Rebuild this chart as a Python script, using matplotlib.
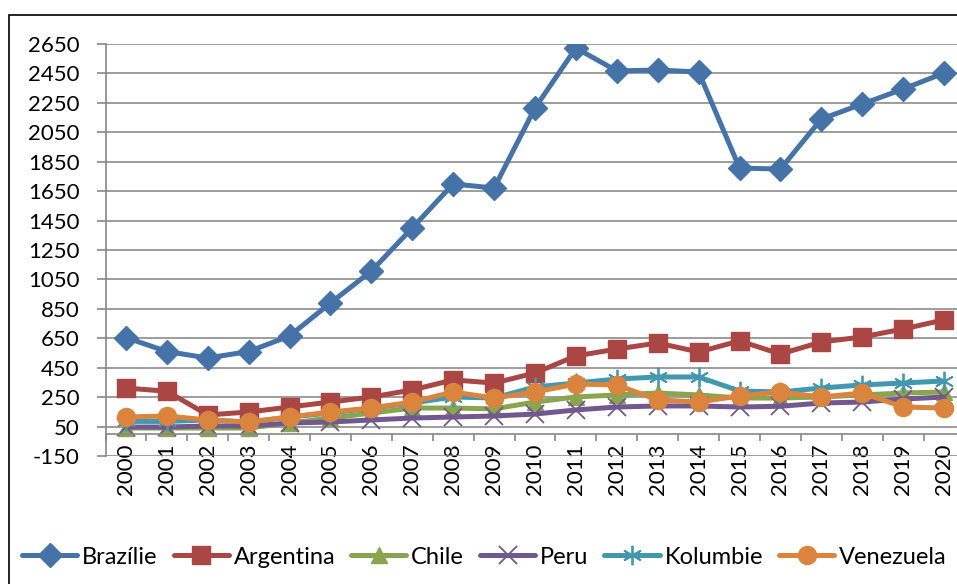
import matplotlib.pyplot as plt
from matplotlib.patches import Rectangle

plt.rcParams['font.family'] = ['Lato', 'DejaVu Sans']
plt.rcParams['axes.unicode_minus'] = False

# ---- data ----
years = [str(y) for y in range(2000, 2021)]

brazilie = [655, 560, 516, 560, 666, 890, 1107, 1400, 1699, 1671, 2215,
            2623, 2467, 2473, 2460, 1807, 1800, 2140, 2242, 2344, 2453]
argentina = [312, 290, 129, 149, 183, 217, 251, 299, 367, 346, 414,
             530, 577, 618, 557, 632, 543, 625, 659, 713, 775]
chile = [40, 40, 40, 40, 74, 108, 142, 176, 176, 170, 217,
         251, 265, 278, 265, 244, 244, 251, 265, 278, 285]
peru = [47, 47, 54, 54, 74, 81, 95, 108, 115, 122, 135,
        163, 183, 190, 190, 183, 188, 210, 217, 237, 251]
kolumbie = [85, 85, 95, 80, 115, 142, 176, 210, 251, 244, 319,
            346, 373, 387, 387, 292, 285, 312, 333, 346, 360]
venezuela = [115, 122, 95, 81, 115, 149, 176, 217, 285, 244, 285,
             339, 333, 231, 217, 258, 285, 251, 278, 183, 176]

series = [
    ("Brazílie", brazilie, "#4572A7", "D", 12.5),
    ("Argentina", argentina, "#AA4643", "s", 12.5),
    ("Chile", chile, "#89A54E", "^", 12),
    ("Peru", peru, "#71588F", "x", 13),
    ("Kolumbie", kolumbie, "#4198AF", (6, 2, 0), 14),
    ("Venezuela", venezuela, "#DB843D", "o", 13),
]

fig = plt.figure(figsize=(9.57, 5.84), dpi=100)
W, H = 957, 584
ax = fig.add_axes([105.5 / W, 1 - 456 / H, (964.5 - 105.5) / W, (456 - 44) / H])

x = list(range(len(years)))
for name, vals, col, mk, ms in series:
    if mk == "x" or isinstance(mk, tuple):
        ax.plot(x, vals, color=col, lw=3.6, marker=mk, ms=ms, mew=1.3,
                label=name, solid_capstyle='round')
    else:
        ax.plot(x, vals, color=col, lw=3.6, marker=mk, ms=ms, mec=col,
                label=name, solid_capstyle='round')

# category axis crosses at 0, labels sit low
ax.spines['bottom'].set_position(('data', 0))

ax.set_xlim(-0.5, len(years) - 0.5)
ax.set_ylim(-150, 2650)
ax.set_yticks(range(-150, 2651, 200))
ax.set_xticks(x)
ax.set_xticklabels(years, rotation=90, va='top')
ax.set_xticks([i + 0.5 for i in range(-1, len(years))], minor=True)

ax.tick_params(axis='x', which='major', length=0, pad=7, labelsize=16)
ax.tick_params(axis='x', which='minor', length=5, color='#888888', width=1.2)
ax.tick_params(axis='y', length=6.5, color='#888888', width=1.2,
               labelsize=16, pad=12)
ax.yaxis.grid(True, color='#8c8c8c', lw=1.2)
ax.set_axisbelow(True)
for s in ['top', 'right']:
    ax.spines[s].set_visible(False)
for s in ['left', 'bottom']:
    ax.spines[s].set_color('#888888')
    ax.spines[s].set_linewidth(1.2)

# chart border
fig.patches.append(Rectangle((9 / W, -0.1), 1.2, 1.1 - 15 / H,
                             transform=fig.transFigure, fill=False,
                             edgecolor='black', lw=1.2))

fig.legend(loc='center left', bbox_to_anchor=(22 / W, 1 - 557 / H), ncol=6,
           frameon=False, fontsize=17, handlelength=2.33, handletextpad=0.21,
           columnspacing=0.68, borderaxespad=0, borderpad=0)

fig.savefig("out.png", dpi=100)
